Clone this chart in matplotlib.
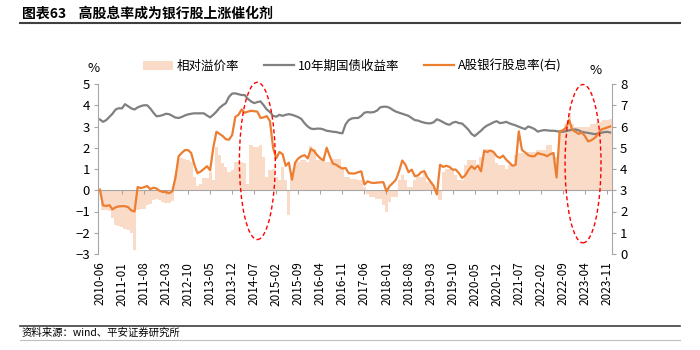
import matplotlib
matplotlib.use("Agg")
import matplotlib.pyplot as plt
import matplotlib.transforms as mtransforms
from matplotlib.lines import Line2D
from matplotlib.patches import Ellipse, Patch
import numpy as np
import pandas as pd

plt.rcParams["font.family"] = ["Noto Sans CJK SC", "DejaVu Sans"]

# monthly categories, 2010-06 .. 2023-12
months = pd.date_range("2010-06-01", periods=163, freq="MS").strftime("%Y-%m").tolist()

# 相对溢价率 (left axis, %)
premium = [
    -0.05, -0.95, -0.95, -0.97, -1.3, -1.65, -1.7, -1.73, -1.8, -1.87,
    -2.0, -2.83, -0.94, -0.9, -0.86, -0.7, -0.63, -0.45, -0.4, -0.45,
    -0.55, -0.6, -0.6, -0.5, 0.7, 1.5, 1.5, 1.45, 1.41, 1.34,
    0.63, 0.19, 0.31, 0.57, 0.57, 0.86, 0.47, 2.04, 1.65, 1.26,
    1.1, 0.86, 0.94, 1.34, 1.34, 1.34, 1.26, 0.31, 2.12, 2.04,
    2.04, 2.12, 1.57, 0.63, 0.94, 1.02, 0.63, 0.47, 1.1, 0.5,
    -1.18, 0.86, 1.34, 1.34, 1.41, 1.41, 1.34, 2.07, 1.96, 1.41,
    1.41, 1.41, 1.34, 1.34, 1.49, 1.49, 1.49, 1.1, 0.63, 0.63,
    0.55, 0.55, 0.5, 0.47, 0.16, -0.16, -0.31, -0.31, -0.39, -0.39,
    -0.71, -1.02, -0.55, -0.31, -0.31, 0.47, 0.71, 0.47, 0.16, 0.16,
    0.47, 0.63, 0.63, 0.79, 0.39, 0.39, 0.16, -0.16, -0.47, 0.86,
    1.02, 1.02, 1.02, 0.71, 0.47, 0.47, 1.18, 1.41, 1.41, 1.41,
    1.02, 1.57, 1.96, 1.96, 1.81, 1.81, 1.26, 1.18, 1.18, 1.02,
    1.18, 1.18, 1.65, 1.73, 1.73, 1.7, 1.81, 1.81, 1.81, 1.89,
    1.89, 1.89, 2.12, 2.12, 1.81, 1.57, 2.83, 2.9, 3.14, 3.62,
    3.14, 2.99, 2.99, 2.99, 2.99, 3.0, 3.14, 3.14, 3.22, 3.22,
    3.3, 3.3, 3.33,
]

# 10年期国债收益率 (left axis, %)
bond_yield = [
    3.33, 3.22, 3.3, 3.45, 3.6, 3.8, 3.86, 3.85, 4.05, 3.95,
    3.85, 3.8, 3.9, 3.96, 4.0, 4.0, 3.85, 3.65, 3.48, 3.5,
    3.54, 3.6, 3.58, 3.5, 3.42, 3.4, 3.45, 3.52, 3.57, 3.6,
    3.62, 3.62, 3.62, 3.62, 3.52, 3.43, 3.55, 3.7, 3.88, 4.0,
    4.1, 4.4, 4.55, 4.56, 4.52, 4.48, 4.48, 4.3, 4.18, 4.1,
    4.15, 4.18, 4.0, 3.8, 3.68, 3.5, 3.46, 3.55, 3.5, 3.55,
    3.58, 3.55, 3.5, 3.44, 3.35, 3.15, 3.0, 2.9, 2.88, 2.9,
    2.9, 2.86, 2.8, 2.78, 2.75, 2.74, 2.7, 2.68, 3.1, 3.3,
    3.38, 3.4, 3.4, 3.5, 3.65, 3.68, 3.66, 3.68, 3.75, 3.9,
    3.93, 3.93, 3.88, 3.78, 3.7, 3.65, 3.6, 3.55, 3.5, 3.4,
    3.3, 3.28, 3.22, 3.18, 3.15, 3.15, 3.2, 3.34, 3.28, 3.2,
    3.12, 3.08, 3.18, 3.22, 3.16, 3.14, 3.0, 2.85, 2.65, 2.55,
    2.68, 2.8, 2.95, 3.05, 3.12, 3.2, 3.25, 3.16, 3.18, 3.22,
    3.15, 3.1, 3.05, 2.99, 2.93, 2.88, 3.0, 2.95, 2.88, 2.76,
    2.8, 2.83, 2.82, 2.8, 2.8, 2.78, 2.76, 2.75, 2.78, 2.82,
    2.85, 2.86, 2.82, 2.75, 2.72, 2.7, 2.67, 2.64, 2.66, 2.7,
    2.73, 2.75, 2.72,
]

# A股银行股息率 (right axis, %)
div_yield = [
    3.03, 2.29, 2.26, 2.3, 2.1, 2.2, 2.24, 2.25, 2.25, 2.2,
    2.05, 2.0, 3.15, 3.1, 3.14, 3.2, 3.05, 3.12, 3.08, 2.97,
    2.92, 2.92, 2.86, 2.95, 3.6, 4.6, 4.76, 4.89, 4.89, 4.75,
    4.2, 3.8, 3.88, 4.0, 4.13, 3.94, 5.0, 5.75, 5.65, 5.55,
    5.4, 5.38, 5.6, 6.45, 6.55, 6.8, 6.65, 6.7, 6.74, 6.72,
    6.7, 6.4, 6.43, 6.49, 6.25, 5.0, 4.5, 4.8, 4.7, 4.15,
    4.3, 3.5, 4.3, 4.5, 4.6, 4.65, 4.5, 4.95, 4.85, 4.65,
    4.5, 4.41, 5.0, 4.6, 4.25, 4.2, 4.1, 4.02, 4.05, 3.8,
    3.79, 3.79, 3.85, 3.89, 3.27, 3.42, 3.36, 3.34, 3.36, 3.37,
    3.38, 2.95, 3.2, 3.34, 3.5, 3.9, 4.4, 4.2, 3.85, 3.97,
    3.66, 3.7, 3.85, 3.9, 3.6, 3.4, 3.2, 2.8, 4.2, 4.1,
    4.15, 4.1, 3.97, 3.97, 3.8, 3.58, 3.7, 3.95, 4.13, 4.0,
    4.16, 3.89, 4.85, 4.8, 4.87, 4.8, 4.6, 4.52, 4.63, 4.44,
    4.3, 4.15, 4.2, 5.77, 4.9, 4.78, 4.65, 4.6, 4.6, 4.75,
    4.7, 4.67, 4.6, 4.7, 4.75, 3.6, 5.77, 5.82, 5.95, 6.3,
    5.84, 5.75, 5.65, 5.72, 5.55, 5.3, 5.35, 5.45, 5.6, 5.84,
    5.9, 5.95, 6.0,
]

labels = ["相对溢价率", "10年期国债收益率", "A股银行股息率(右)"]
# highlighted periods: (center month, center y on left axis, width, height)
highlights = [(50, 1.38, 11.4, 7.4), (153.4, 1.25, 11.4, 7.45)]

bar_color = "#F9DBC7"
gray = "#808080"
orange = "#ED7D31"
axis_color = "#A6A6A6"

fig = plt.figure(figsize=(7, 3.5), dpi=100)
ax = fig.add_axes([98.3 / 700, 1 - 254 / 350, 513.4 / 700, 170 / 350])
x = np.arange(len(months))

ax.bar(x, premium, width=1.0, color=bar_color, linewidth=0, zorder=1)
ax.plot(x, bond_yield, color=gray, lw=1.6, zorder=2)
ax.set_xlim(-0.5, len(months) - 0.5)
ax.set_ylim(-3, 5)
ax.set_yticks(range(-3, 6))

ax2 = ax.twinx()
ax2.plot(x, div_yield, color=orange, lw=1.6, zorder=3)
ax2.set_ylim(0, 8)
ax2.set_yticks(range(0, 9))

for s in ["top", "right"]:
    ax.spines[s].set_visible(False)
ax.spines["bottom"].set_position(("data", 0))
ax.spines["bottom"].set_color(axis_color)
ax.spines["left"].set_color(axis_color)
for s in ["top", "left", "bottom"]:
    ax2.spines[s].set_visible(False)
ax2.spines["right"].set_color(axis_color)

ticks = x[::7]
ax.set_xticks(ticks)
ax.tick_params(axis="x", direction="out", length=3, color=axis_color, labelbottom=False)
ax.tick_params(axis="y", direction="out", length=3, color=axis_color, labelsize=9.5, pad=3)
ax2.tick_params(axis="y", direction="out", length=3, color=axis_color, labelsize=9.5, pad=3)

trans = mtransforms.blended_transform_factory(ax.transData, ax.transAxes)
for i in ticks:
    ax.text(i, -0.045, months[i], rotation=90, ha="center", va="top",
            fontsize=8.5, transform=trans)

for cx, cy, w, h in highlights:
    e = Ellipse((cx, cy), w, h, fill=False, edgecolor="#FF0000", lw=1.0,
                ls=(0, (3, 2)), transform=ax.transData, clip_on=False, zorder=5)
    ax2.add_patch(e)

fig.text(94 / 700, 1 - 69 / 350, "%", ha="center", va="center", fontsize=9.5)
fig.text(596 / 700, 1 - 70 / 350, "%", ha="center", va="center", fontsize=9.5)

handles = [
    Patch(facecolor=bar_color, edgecolor="none"),
    Line2D([], [], color=gray, lw=1.6),
    Line2D([], [], color=orange, lw=1.6),
]
fig.legend(handles, labels, loc="center", bbox_to_anchor=(0.503, 1 - 66 / 350),
           ncol=3, frameon=False, fontsize=9, handlelength=2.4,
           columnspacing=2.0, handletextpad=0.3)

fig.text(22 / 700, 1 - 14 / 350, "图表63    高股息率成为银行股上涨催化剂",
         fontsize=10, fontweight="bold", va="center")
fig.add_artist(Line2D([20 / 700, 680 / 700], [1 - 23 / 350] * 2, color="#404040", lw=1.5))
fig.add_artist(Line2D([20 / 700, 680 / 700], [1 - 326 / 350] * 2, color="#404040", lw=1.2))
fig.add_artist(Line2D([20 / 700, 680 / 700], [1 - 340 / 350] * 2, color="#BFBFBF", lw=0.8))
fig.text(22 / 700, 1 - 333 / 350, "资料来源：wind、平安证券研究所", fontsize=7.5, va="center")

fig.savefig("out.png", dpi=100)
